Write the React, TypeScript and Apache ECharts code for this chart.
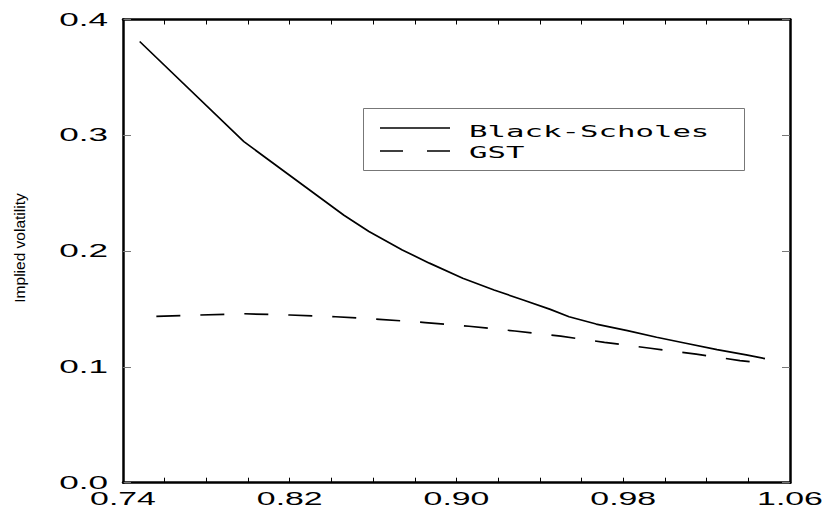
import React, { useEffect, useRef } from 'react';
import * as echarts from 'echarts';

const seriesNames = ['Black-Scholes', 'GST'];

const bsX = [0.748, 0.798, 0.846, 0.858, 0.874, 0.887, 0.903, 0.918, 0.932, 0.945, 0.954, 0.967, 0.982, 0.996, 1.010, 1.025, 1.039, 1.048];
const bsY = [0.381, 0.2945, 0.231, 0.217, 0.201, 0.1896, 0.1765, 0.1664, 0.1578, 0.1497, 0.1433, 0.137, 0.1313, 0.1256, 0.1204, 0.1149, 0.1104, 0.1071];

const gstX = [0.756, 0.777, 0.798, 0.820, 0.842, 0.863, 0.885, 0.906, 0.928, 0.950, 0.971, 0.993, 1.015, 1.036, 1.048];
const gstY = [0.1437, 0.1448, 0.1459, 0.1448, 0.1433, 0.1411, 0.1383, 0.1351, 0.131, 0.1265, 0.1212, 0.1161, 0.1111, 0.1054, 0.1031];

const xTickLabels = ['0.74', '0.82', '0.90', '0.98', '1.06'];
const yTickLabels = ['0.0', '0.1', '0.2', '0.3', '0.4'];
const yAxisTitle = 'Implied volatility';

const MONO = '"DejaVu Sans Mono", monospace';
const SANS = '"Liberation Sans", Arial, sans-serif';

export default function App() {
  const ref = useRef<HTMLDivElement>(null);
  useEffect(() => {
    const chart = echarts.init(ref.current!, null, { renderer: 'svg' });
    const frameLine = { show: true, onZero: false, lineStyle: { color: '#000', width: 2.5 } };
    const xTick = { show: true, inside: true, length: 5, lineStyle: { color: '#000', width: 1 } };
    const yTick = { show: true, inside: true, length: 8, lineStyle: { color: '#777', width: 1 } };
    const xBase = { type: 'value', min: 0.74, max: 1.06, interval: 0.02, axisLine: frameLine, axisTick: xTick, axisLabel: { show: false }, splitLine: { show: false } };
    const yBase = { type: 'value', min: 0, max: 0.4, interval: 0.1, axisLine: frameLine, axisTick: yTick, axisLabel: { show: false }, splitLine: { show: false } };
    chart.setOption({
      animation: false,
      backgroundColor: '#fff',
      grid: { left: 123, right: 32, top: 19.5, bottom: 25.3, containLabel: false },
      xAxis: [
        { ...xBase, position: 'bottom' },
        { ...xBase, position: 'top' },
      ],
      yAxis: [
        { ...yBase, position: 'left' },
        { ...yBase, position: 'right' },
      ],
      series: [
        {
          name: seriesNames[0], type: 'line', xAxisIndex: 0, yAxisIndex: 0, showSymbol: false,
          data: bsX.map((x, i) => [x, bsY[i]]),
          lineStyle: { color: '#000', width: 1.7 },
        },
        {
          name: seriesNames[1], type: 'line', xAxisIndex: 0, yAxisIndex: 0, showSymbol: false,
          data: gstX.map((x, i) => [x, gstY[i]]),
          lineStyle: { color: '#000', width: 1.7, type: [24, 20] },
        },
      ],
    });

    const px = (x: number, y: number) => chart.convertToPixel({ xAxisIndex: 0, yAxisIndex: 0 }, [x, y]) as number[];
    const bottomY = px(0.74, 0)[1];
    const leftX = px(0.74, 0)[0];

    const graphics: any[] = [];
    xTickLabels.forEach((t) => {
      const p = px(parseFloat(t), 0);
      graphics.push({
        type: 'text', x: p[0], y: bottomY + 15.5, scaleX: 1.88,
        style: { text: t, x: 0, y: 0, fill: '#000', font: `18px ${SANS}`, align: 'center', verticalAlign: 'middle' },
        silent: true,
      });
    });
    yTickLabels.forEach((t) => {
      const p = px(0.74, parseFloat(t));
      graphics.push({
        type: 'text', x: leftX - 15, y: p[1], scaleX: 1.95,
        style: { text: t, x: 0, y: 0, fill: '#000', font: `18px ${SANS}`, align: 'right', verticalAlign: 'middle' },
        silent: true,
      });
    });
    graphics.push({
      type: 'text', x: 19, y: 248, rotation: Math.PI / 2,
      style: { text: yAxisTitle, x: 0, y: 0, fill: '#000', font: `15.5px ${SANS}`, align: 'center', verticalAlign: 'middle' },
      silent: true,
    });
    // legend
    graphics.push({
      type: 'rect', shape: { x: 363.5, y: 108.5, width: 381, height: 62 },
      style: { fill: '#fff', stroke: '#777', lineWidth: 1 }, z: 10,
    });
    graphics.push({
      type: 'line', shape: { x1: 380, y1: 128, x2: 450, y2: 128 },
      style: { stroke: '#000', lineWidth: 1.7 }, z: 11,
    });
    graphics.push({
      type: 'line', shape: { x1: 380, y1: 151, x2: 450, y2: 151 },
      style: { stroke: '#000', lineWidth: 1.7, lineDash: [23, 24] }, z: 11,
    });
    graphics.push({
      type: 'text', x: 469, y: 131, scaleX: 1.92, z: 11,
      style: { text: seriesNames[0], x: 0, y: 0, fill: '#000', font: `16px ${MONO}`, align: 'left', verticalAlign: 'middle' },
    });
    graphics.push({
      type: 'text', x: 469, y: 152.5, scaleX: 1.92, z: 11,
      style: { text: seriesNames[1], x: 0, y: 0, fill: '#000', font: `16px ${MONO}`, align: 'left', verticalAlign: 'middle' },
    });
    chart.setOption({ graphic: graphics });

    return () => chart.dispose();
  }, []);
  return <div ref={ref} style={{ position: 'absolute', left: 0, top: 0, width: 822, height: 508 }} />;
}
